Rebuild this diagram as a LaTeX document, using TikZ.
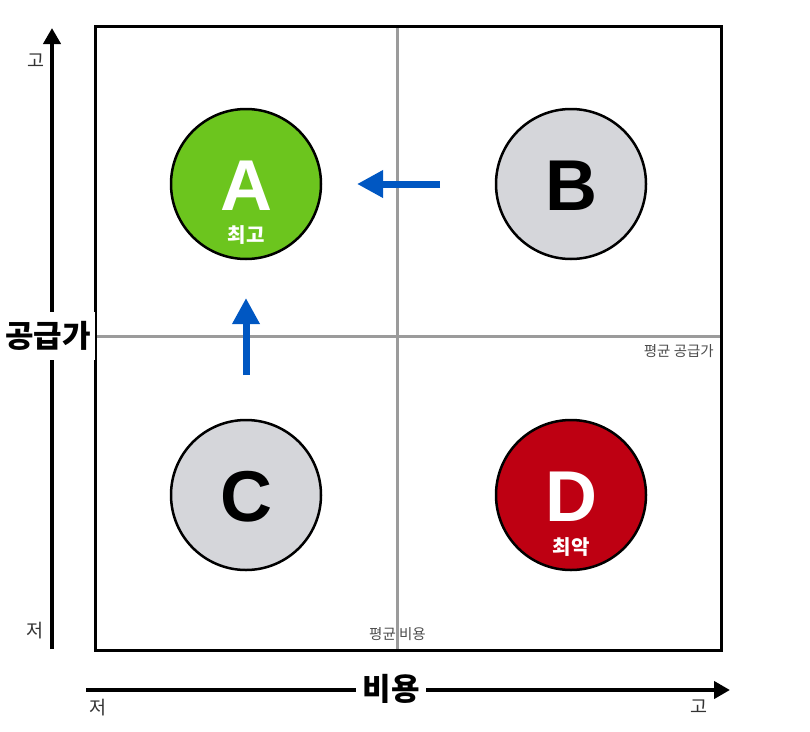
\documentclass[tikz,border=0pt]{standalone}
\usepackage{fontspec}
\setmainfont{Liberation Sans}
\newfontfamily\kr{Noto Sans CJK KR}
\usepackage{tikz}
\usetikzlibrary{arrows.meta, positioning}
\definecolor{best}{HTML}{6CC51E}
\definecolor{worst}{HTML}{BE0012}
\definecolor{neutral}{HTML}{D5D6DA}
\definecolor{meanline}{HTML}{9B9B9B}
\definecolor{move}{HTML}{0057C2}
\definecolor{ticktext}{HTML}{333333}
\tikzset{>={Triangle[length=16pt,width=17pt]},
	bubble/.style={circle, draw=black, line width=2.5pt, minimum size=150pt, inner sep=0pt},
	letter/.style={font=\bfseries\fontsize{72}{72}\selectfont, inner sep=0pt},
	tag/.style={font=\kr\bfseries\fontsize{20}{20}\selectfont, text=white, inner sep=0pt},
	axisname/.style={font=\kr\bfseries\fontsize{31}{31}\selectfont, fill=white, inner xsep=4pt, inner ysep=9pt},
	tick/.style={font=\kr\fontsize{18.5}{18.5}\selectfont, text=ticktext, inner sep=0pt},
	meanlabel/.style={font=\kr\fontsize{14.5}{14.5}\selectfont, text=black!70, inner sep=0pt},
	movearrow/.style={move, line width=7pt, -{Triangle[length=26pt,width=26pt]}}}

\begin{document}
\begin{tikzpicture}[x=1pt, y=-1pt]

	\useasboundingbox (0,0) rectangle (810,731);

	% average lines and frame
	\draw [meanline, line width=3pt] (397,26) -- (397,650);
	\draw [meanline, line width=3pt] (95,336) -- (721,336);
	\draw [line width=3pt] (95,26) rectangle (721,650);

	\node [meanlabel, anchor=east] (meansupply) at (714,351) {평균 공급가};
	\node [meanlabel] (meancost) at (397.5,634) {평균 비용};

	% axes
	\coordinate (ybot) at (52,649);
	\coordinate (ytop) at (52,28);
	\coordinate (xleft) at (86,690);
	\coordinate (xright) at (730,690);
	\draw [->, line width=4pt] (ybot) -- (ytop);
	\draw [->, line width=4pt] (xleft) -- (xright);
	\node [axisname] (supply) at (48,336) {공급가};
	\node [axisname, inner xsep=6pt, inner ysep=4pt] (cost) at (391,689) {비용};

	\node [tick] (yhigh) at (36,61) {고};
	\node [tick] (ylow) at (35,631) {저};
	\node [tick] (xlow) at (98,708) {저};
	\node [tick] (xhigh) at (699,707) {고};

	% quadrants
	\node [bubble, fill=best] (A) at (246,184) {};
	\node [bubble, fill=neutral] (B) at (571,184) {};
	\node [bubble, fill=neutral] (C) at (246,495) {};
	\node [bubble, fill=worst] (D) at (571,495) {};

	\node [letter, text=white] (letterA) at ([yshift=-1.5pt]A.center) {A};
	\node [letter] (letterB) at ([yshift=-1.5pt]B.center) {B};
	\node [letter] (letterC) at ([yshift=-1.5pt]C.center) {C};
	\node [letter, text=white] (letterD) at ([yshift=-1.5pt]D.center) {D};
	\node [tag] (tagA) at ([yshift=-51pt]A.center) {최고};
	\node [tag] (tagD) at ([yshift=-52pt]D.center) {최악};

	% moves toward A
	\coordinate (fromB) at (440,184);
	\coordinate (toA) at (357,184);
	\coordinate (fromC) at (246,375);
	\coordinate (upA) at (246,298);
	\draw [movearrow] (fromB) -- (toA);
	\draw [movearrow] (fromC) -- (upA);

\end{tikzpicture}
\end{document}
